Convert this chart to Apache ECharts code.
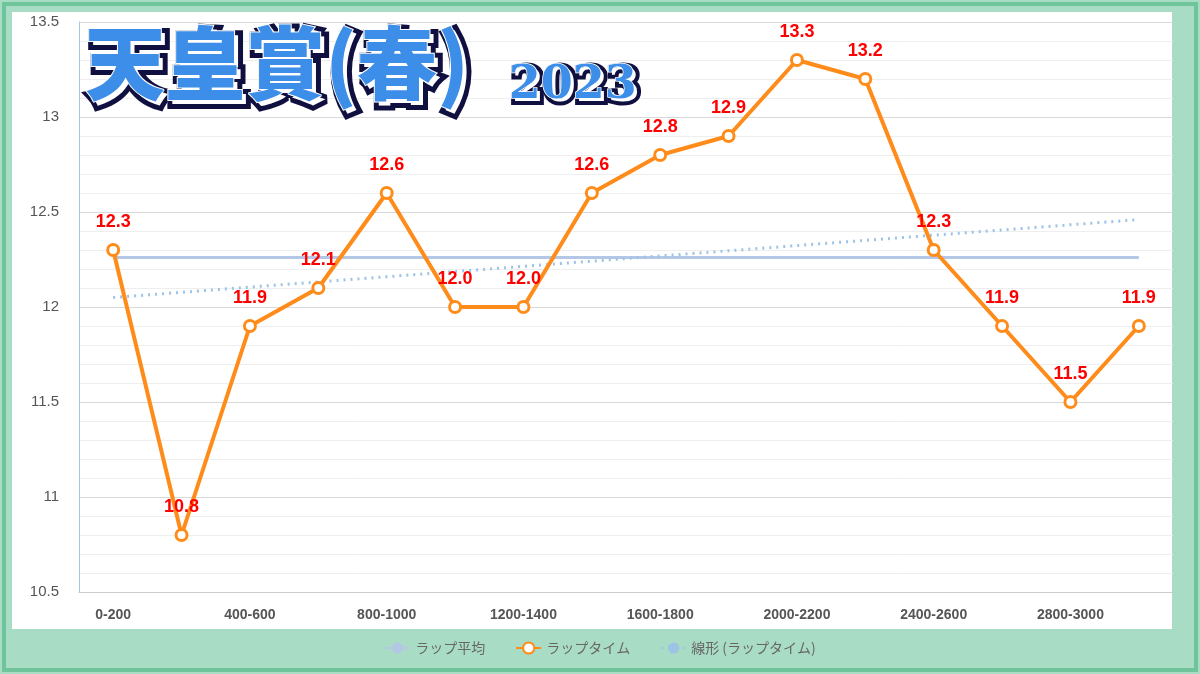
<!DOCTYPE html><html><head><meta charset="utf-8"><script src="https://cdn.jsdelivr.net/npm/echarts@6/dist/echarts.min.js"></script>
<style>html,body{margin:0;padding:0;background:#a9dcc5}#c{width:1200px;height:674px}</style></head><body><div id="c"></div><script>
const categories=["0-200","200-400","400-600","600-800","800-1000","1000-1200","1200-1400","1400-1600","1600-1800","1800-2000","2000-2200","2200-2400","2400-2600","2600-2800","2800-3000","3000-3200"];
const lapTimes=[12.3,10.8,11.9,12.1,12.6,12.0,12.0,12.6,12.8,12.9,13.3,13.2,12.3,11.9,11.5,11.9];
const lapAverage=Array(16).fill(12.26);
const trendEnds=[[0,12.05],[15,12.46]];
const yTicks={min:10.5,max:13.5,interval:0.5};
const ch=echarts.init(document.getElementById('c'));
ch.setOption({
 animation:false,
 backgroundColor:'#a9dcc5',
 graphic:[
  {type:'rect',shape:{x:4,y:4,width:1192,height:666},style:{fill:'none',stroke:'#6fc49b',lineWidth:4},z:-2},
  {type:'rect',shape:{x:12,y:12,width:1160,height:617},style:{fill:'#fff'},z:-1},
  {type:'text',left:84,top:22,z:100,style:{text:'天皇賞(春)',font:'900 80px "Noto Sans CJK JP"',fill:'#ffffff',stroke:'#101040',lineWidth:10}},
  {type:'text',left:84,top:22,z:101,style:{text:'天皇賞(春)',font:'900 80px "Noto Sans CJK JP"',fill:'#3c8ee8',stroke:'#ffffff',lineWidth:2}},
  {type:'text',left:508,top:62,z:100,style:{text:'2023',font:'900 46px "DejaVu Serif"',fill:'#ffffff',stroke:'#101040',lineWidth:8}},
  {type:'text',left:508,top:62,z:101,style:{text:'2023',font:'900 46px "DejaVu Serif"',fill:'#3c8ee8',stroke:'#ffffff',lineWidth:1.5}}
 ],
 grid:{left:79,right:27,top:22,bottom:82},
 legend:{bottom:14,left:'center',itemGap:30,textStyle:{color:'#666',fontSize:14,fontFamily:'Noto Sans CJK JP'},
  data:['ラップ平均','ラップタイム','線形 (ラップタイム)']},
 xAxis:{type:'category',data:categories,boundaryGap:true,
  axisLine:{lineStyle:{color:'#ccc'}},axisTick:{show:false},
  axisLabel:{interval:1,color:'#555',fontWeight:'bold',fontSize:14,margin:16}},
 yAxis:{type:'value',...yTicks,axisLine:{show:true,lineStyle:{color:'#9fc9e6'}},
  axisLabel:{color:'#555',fontSize:15,margin:20,formatter:v=>String(v)},
  splitLine:{lineStyle:{color:'#d9d9d9'}},
  minorTick:{show:false,splitNumber:5},minorSplitLine:{show:true,lineStyle:{color:'#eee'}}},
 series:[
  {name:'ラップ平均',type:'line',data:lapAverage,symbol:'none',lineStyle:{color:'#b4c7e7',width:3},itemStyle:{color:'#b4c7e7'},z:1},
  {name:'ラップタイム',type:'line',data:lapTimes,symbol:'circle',symbolSize:11,
   lineStyle:{color:'#ff8c1a',width:4},itemStyle:{color:'#fff',borderColor:'#ff8c1a',borderWidth:3},
   label:{show:true,position:'top',distance:12,color:'#ff0000',fontWeight:'bold',fontSize:18,formatter:p=>p.value.toFixed(1)},z:3},
  {name:'線形 (ラップタイム)',type:'line',data:trendEnds,symbol:'none',lineStyle:{color:'#9dc3e6',width:3,type:[2,5]},itemStyle:{color:'#9dc3e6'},z:2}
 ]
});
</script></body></html>
